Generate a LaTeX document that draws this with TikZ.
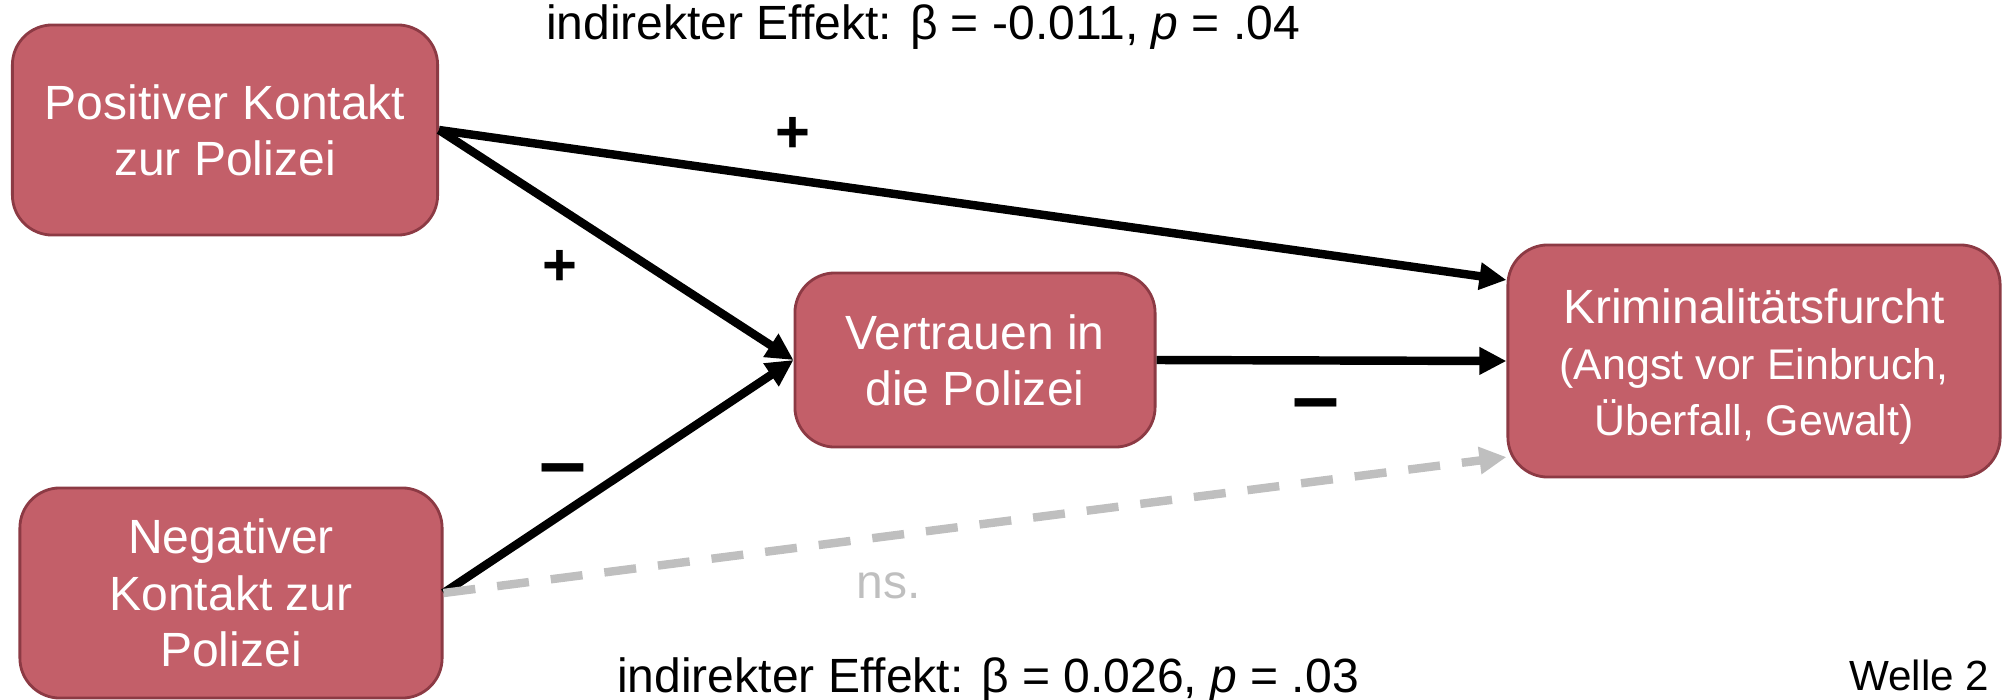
\documentclass[tikz,border=0pt]{standalone}
\usepackage{fontspec}
\setmainfont{Liberation Sans}
\usetikzlibrary{arrows.meta}

\definecolor{boxfill}{RGB}{195,95,105}
\definecolor{boxborder}{RGB}{140,58,68}
\definecolor{nsgrey}{RGB}{191,191,191}

\newcommand{\boxfont}{\fontsize{13.66pt}{16pt}\selectfont}
\newcommand{\subfont}{\fontsize{12.2pt}{13.8pt}\selectfont}
\newcommand{\labfont}{\fontsize{13.66pt}{16pt}\selectfont}

\tikzset{
  varbox/.style={draw=boxborder, fill=boxfill, line width=0.8pt,
    rounded corners=0.4cm, text=white, align=center, inner sep=0pt,
    font=\boxfont},
  conn/.style={line width=2.4pt, draw=black,
    -{Triangle[length=0.27cm,width=0.26cm]}},
  nsconn/.style={conn, draw=nsgrey, dash pattern=on 0.32cm off 0.22cm},
  plussign/.style={font=\fontsize{17pt}{17pt}\selectfont\bfseries, inner sep=0pt},
  minussign/.style={font=\fontsize{24pt}{24pt}\selectfont\bfseries, inner sep=0pt,
    anchor=base},
  effect/.style={font=\labfont, inner sep=0pt, anchor=base}
}

\begin{document}
\begin{tikzpicture}[x=0.01cm, y=-0.01cm]
  \useasboundingbox (0,0) rectangle (2003,700);

  % variables
  \node[varbox, minimum width=4.25cm, minimum height=2.1cm] (pos) at (225,130)
    {Positiver Kontakt\\zur Polizei};
  \node[varbox, minimum width=4.22cm, minimum height=2.1cm] (neg) at (231,593)
    {Negativer\\Kontakt zur\\Polizei};
  \node[varbox, minimum width=3.6cm, minimum height=1.74cm] (trust) at (975,360)
    {Vertrauen in\\die Polizei};
  \node[varbox, minimum width=4.92cm, minimum height=2.32cm] (fear) at (1754,361)
    {\rule{0pt}{13pt}Kriminalitätsfurcht\\{\subfont (Angst vor Einbruch,}\\{\subfont Überfall, Gewalt)}};

  % paths
  \draw[conn] (pos.east) -- ([yshift=0.81cm]fear.west);
  \draw[conn] (pos.east) -- (trust.west);
  \draw[conn] (neg.east) -- (trust.west);
  \draw[conn] (trust.east) -- (fear.west);
  \draw[nsconn] (neg.east) -- ([yshift=-0.96cm]fear.west);

  % signs of the paths
  \node[plussign] (s1) at (793,135) {+};
  \node[plussign] (s2) at (560,268) {+};
  \node[minussign] (s3) at (563,490) {–};
  \node[minussign] (s4) at (1316,425) {–};
  \node[effect, text=nsgrey] (ns) at (889,598) {ns.};

  % effects
  \node[effect] (ie1) at (923,40) {indirekter Effekt: β = -0.011, \textit{p} = .04};
  \node[effect] (ie2) at (988,692) {indirekter Effekt: β = 0.026, \textit{p} = .03};
  \node[effect, font=\fontsize{12pt}{14pt}\selectfont, anchor=base east] (wave)
    at (1990,690) {Welle 2};
\end{tikzpicture}
\end{document}
